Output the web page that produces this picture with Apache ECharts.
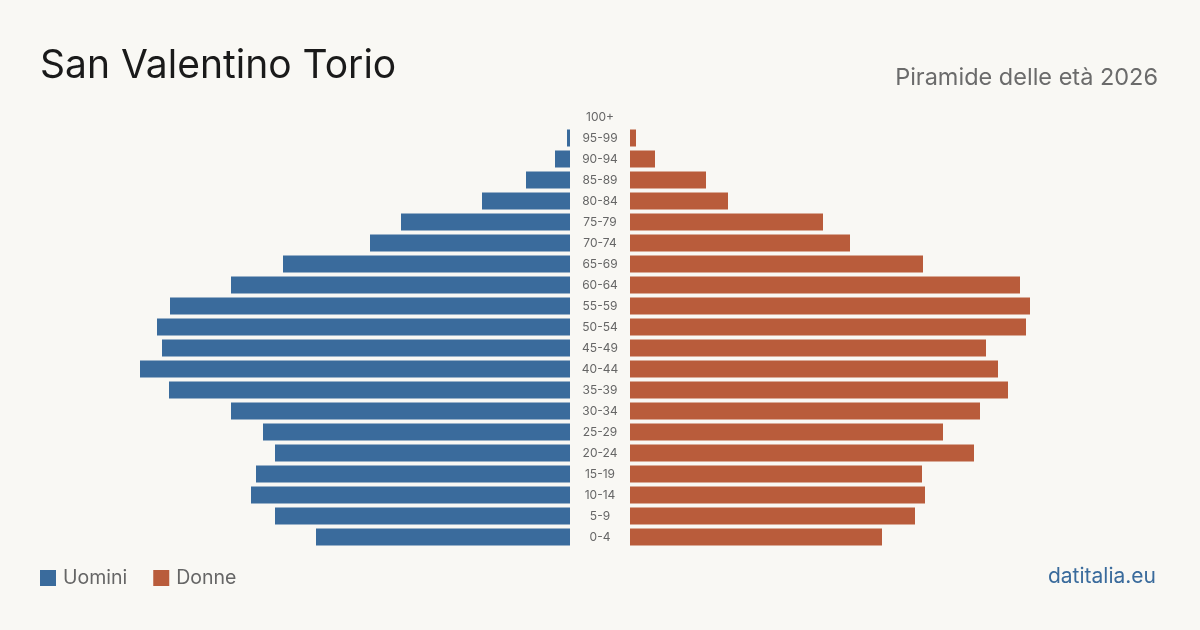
<!DOCTYPE html>
<html>
<head>
<meta charset="utf-8">
<script src="https://cdn.jsdelivr.net/npm/echarts@6/dist/echarts.min.js"></script>
<style>
  html, body { margin: 0; padding: 0; background: #f9f8f4; }
  #chart { width: 1200px; height: 630px; }
</style>
</head>
<body>
<div id="chart"></div>
<script>
// Classi di età, dal basso verso l'alto
const ageGroups = ['0-4', '5-9', '10-14', '15-19', '20-24', '25-29', '30-34', '35-39', '40-44', '45-49',
    '50-54', '55-59', '60-64', '65-69', '70-74', '75-79', '80-84', '85-89', '90-94', '95-99', '100+'];

// Popolazione stimata dal grafico
const uomini = [254, 295, 319, 314, 295, 307, 339, 401, 430, 408,
    413, 400, 339, 287, 200, 169, 88, 44, 15, 3, 0];
const donne = [252, 285, 295, 292, 344, 313, 350, 378, 368, 356,
    396, 400, 390, 293, 220, 193, 98, 76, 25, 6, 0];

const colorUomini = '#3a6b9c';
const colorDonne = '#b95c3b';
const fontFamily = 'Inter, "Noto Sans", sans-serif';
const axisMax = 470;

const chart = echarts.init(document.getElementById('chart'));

chart.setOption({
    backgroundColor: '#f9f8f4',
    textStyle: { fontFamily: fontFamily },
    animation: false,
    title: [
        {
            text: 'San Valentino Torio',
            left: 40, top: 47, padding: 0,
            textStyle: { fontSize: 39, fontWeight: 'normal', color: '#1a1a1a', fontFamily: fontFamily }
        },
        {
            text: 'Piramide delle età 2026',
            right: 42, top: 66, padding: 0,
            textStyle: { fontSize: 23.5, fontWeight: 'normal', color: '#6b6b6b', fontFamily: fontFamily }
        },
        {
            text: 'datitalia.eu',
            right: 44, top: 566, padding: 0,
            textStyle: { fontSize: 21, fontWeight: 'normal', color: '#3a6b9c', fontFamily: fontFamily }
        }
    ],
    legend: {
        left: 40, top: 568, padding: 0,
        icon: 'rect',
        itemWidth: 16, itemHeight: 16,
        itemGap: 26,
        data: ['Uomini', 'Donne'],
        textStyle: { fontSize: 19.5, color: '#666', fontFamily: fontFamily, padding: [0, 0, 0, 2] }
    },
    grid: [
        { left: 570 - axisMax, width: axisMax, top: 106.5, height: 441 },
        { left: 630, width: axisMax, top: 106.5, height: 441 }
    ],
    xAxis: [
        { gridIndex: 0, type: 'value', min: 0, max: axisMax, inverse: true, show: false },
        { gridIndex: 1, type: 'value', min: 0, max: axisMax, show: false }
    ],
    yAxis: [
        {
            gridIndex: 0, type: 'category', data: ageGroups,
            axisLine: { show: false }, axisTick: { show: false }, axisLabel: { show: false }
        },
        {
            gridIndex: 1, type: 'category', data: ageGroups,
            axisLine: { show: false }, axisTick: { show: false },
            axisLabel: { align: 'center', margin: 30, fontSize: 12, color: '#666', fontFamily: fontFamily }
        }
    ],
    series: [
        {
            name: 'Uomini', type: 'bar', xAxisIndex: 0, yAxisIndex: 0,
            data: uomini, barCategoryGap: '19%',
            itemStyle: { color: colorUomini }
        },
        {
            name: 'Donne', type: 'bar', xAxisIndex: 1, yAxisIndex: 1,
            data: donne, barCategoryGap: '19%',
            itemStyle: { color: colorDonne }
        }
    ]
});
</script>
</body>
</html>
